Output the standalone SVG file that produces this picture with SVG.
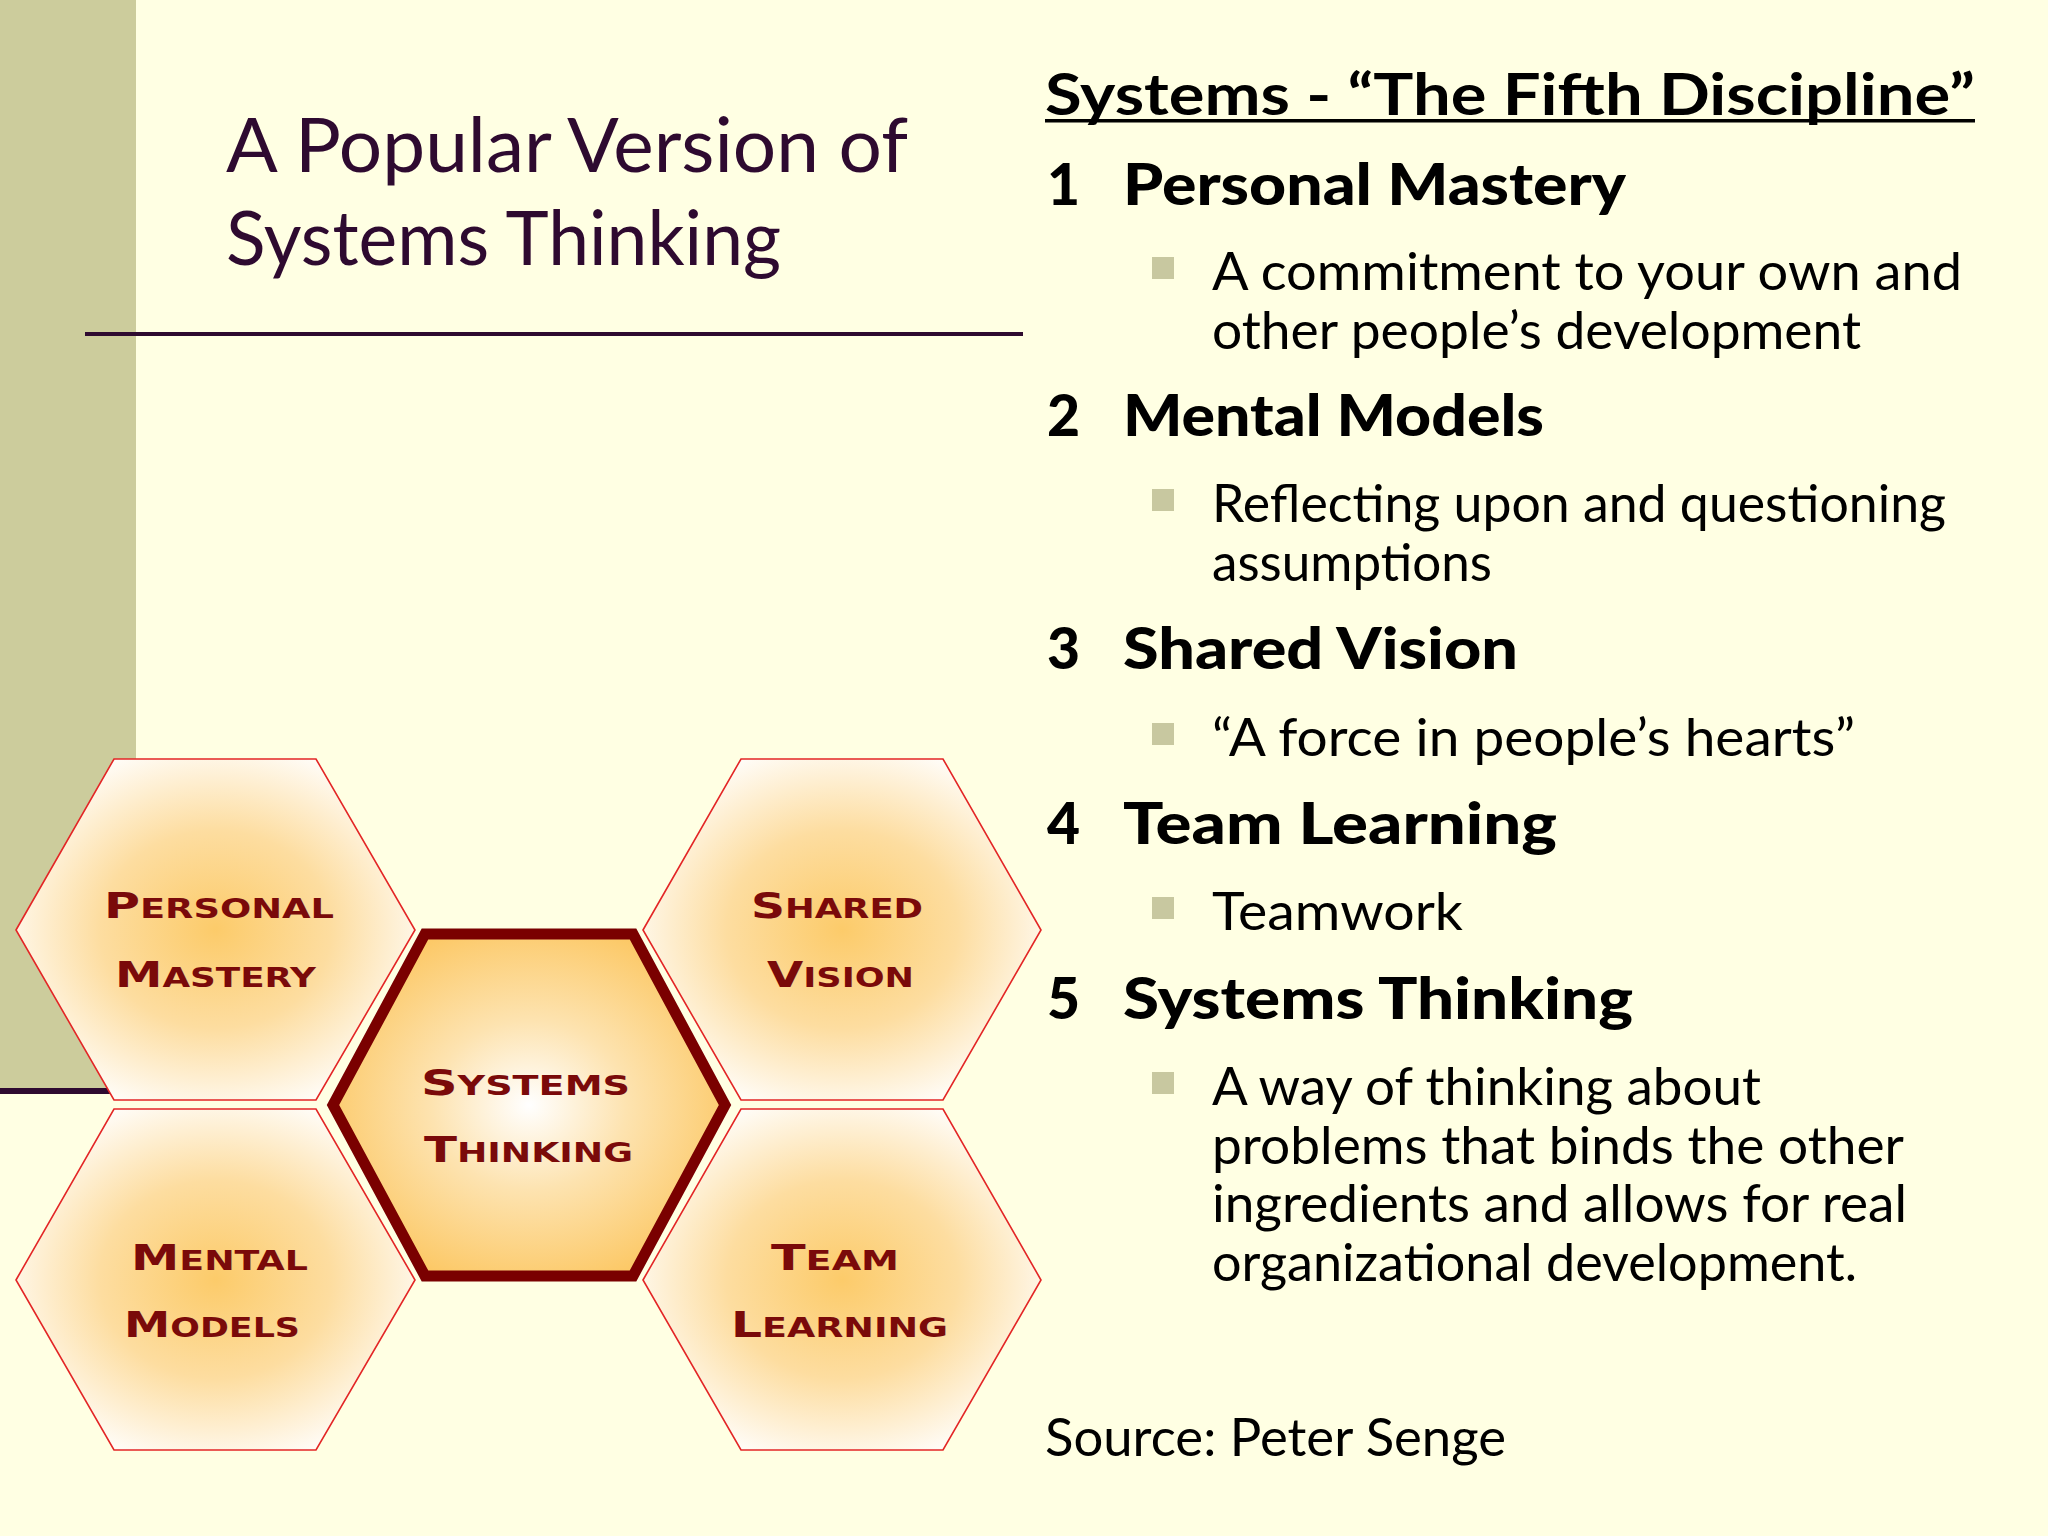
<svg xmlns="http://www.w3.org/2000/svg" width="2048" height="1536" viewBox="0 0 2048 1536">
<defs>
<radialGradient id="gOuter" cx="50%" cy="50%" r="58%">
<stop offset="0" stop-color="#FCCB6A"/>
<stop offset="0.5" stop-color="#FDDDA0"/>
<stop offset="1" stop-color="#FFFFFF"/>
</radialGradient>
<radialGradient id="gCenter" cx="50%" cy="50%" r="55%">
<stop offset="0" stop-color="#FFFFFF"/>
<stop offset="0.45" stop-color="#FDE3B0"/>
<stop offset="1" stop-color="#FCC865"/>
</radialGradient>
<style>
.t{font-family:Lato,"Open Sans","Liberation Sans",sans-serif;}
.title{font-size:76px;fill:#2E0A30;}
.head{font-size:57px;font-weight:900;fill:#000;}
.body{font-size:53px;fill:#000;}
.hex{fill:url(#gOuter);stroke:#E32626;stroke-width:1.6;}
.hexc{fill:url(#gCenter);stroke:#7A0000;stroke-width:11;stroke-linejoin:miter;}
.hl{font-family:"DejaVu Sans","Liberation Sans",sans-serif;font-weight:bold;fill:#7A0A0A;font-size:27px;}
.big{font-size:36px;}
.bul{fill:#C8C8A0;}
</style>
</defs>
<rect x="0" y="0" width="2048" height="1536" fill="#FFFFE3"/>
<rect x="0" y="0" width="136" height="1088" fill="#CCCC9C"/>
<rect x="0" y="1088" width="112" height="6" fill="#2E0A30"/>
<rect x="112" y="1088" width="24" height="6" fill="#DADAC8"/>
<line x1="85" y1="334" x2="1023" y2="334" stroke="#2E0A30" stroke-width="4"/>

<g id="title">
<text class="t title" x="226" y="172" textLength="682" lengthAdjust="spacingAndGlyphs">A Popular Version of</text>
<text class="t title" x="226" y="265" textLength="555" lengthAdjust="spacingAndGlyphs">Systems Thinking</text>
</g>

<g id="connectors"></g>

<g id="hex-personal-mastery">
<polygon class="hex" points="16,930 114,759 316,759 415,930 316,1100 114,1100"/>
<text class="hl" x="104" y="918" textLength="230" lengthAdjust="spacingAndGlyphs"><tspan class="big">P</tspan>ERSONAL</text>
<text class="hl" x="115" y="987" textLength="201" lengthAdjust="spacingAndGlyphs"><tspan class="big">M</tspan>ASTERY</text>
</g>
<g id="hex-mental-models">
<polygon class="hex" points="16,1280 114,1109 316,1109 415,1280 316,1450 114,1450"/>
<text class="hl" x="131" y="1270" textLength="177" lengthAdjust="spacingAndGlyphs"><tspan class="big">M</tspan>ENTAL</text>
<text class="hl" x="124" y="1337" textLength="176" lengthAdjust="spacingAndGlyphs"><tspan class="big">M</tspan>ODELS</text>
</g>
<g id="hex-shared-vision">
<polygon class="hex" points="643,930 741,759 943,759 1041,930 943,1100 741,1100"/>
<text class="hl" x="751" y="918" textLength="172" lengthAdjust="spacingAndGlyphs"><tspan class="big">S</tspan>HARED</text>
<text class="hl" x="767" y="987" textLength="147" lengthAdjust="spacingAndGlyphs"><tspan class="big">V</tspan>ISION</text>
</g>
<g id="hex-team-learning">
<polygon class="hex" points="643,1280 741,1109 943,1109 1041,1280 943,1450 741,1450"/>
<text class="hl" x="771" y="1270" textLength="128" lengthAdjust="spacingAndGlyphs"><tspan class="big">T</tspan>EAM</text>
<text class="hl" x="731" y="1337" textLength="217" lengthAdjust="spacingAndGlyphs"><tspan class="big">L</tspan>EARNING</text>
</g>
<g id="hex-systems-thinking">
<polygon class="hexc" points="333,1105 425,934 633,934 725,1105 633,1276 425,1276"/>
<text class="hl" x="421" y="1095" textLength="209" lengthAdjust="spacingAndGlyphs"><tspan class="big">S</tspan>YSTEMS</text>
<text class="hl" x="424" y="1162" textLength="209" lengthAdjust="spacingAndGlyphs"><tspan class="big">T</tspan>HINKING</text>
</g>

<g id="disciplines">
<text class="t head" x="1045" y="115" textLength="930" lengthAdjust="spacingAndGlyphs" style="font-weight:700">Systems - “The Fifth Discipline”</text>
<rect x="1045" y="119" width="930" height="3.5" fill="#000"/>

<text class="t head" x="1047" y="205">1</text>
<text class="t head" x="1123" y="205" textLength="503" lengthAdjust="spacingAndGlyphs">Personal Mastery</text>
<rect class="bul" x="1152" y="257" width="22" height="22"/>
<text class="t body" x="1212" y="290" textLength="750" lengthAdjust="spacingAndGlyphs">A commitment to your own and</text>
<text class="t body" x="1212" y="349" textLength="649" lengthAdjust="spacingAndGlyphs">other people’s development</text>

<text class="t head" x="1047" y="436">2</text>
<text class="t head" x="1123" y="436" textLength="421" lengthAdjust="spacingAndGlyphs">Mental Models</text>
<rect class="bul" x="1152" y="489" width="22" height="22"/>
<text class="t body" x="1212" y="522" textLength="734" lengthAdjust="spacingAndGlyphs">Reflecting upon and questioning</text>
<text class="t body" x="1212" y="581" textLength="280" lengthAdjust="spacingAndGlyphs">assumptions</text>

<text class="t head" x="1047" y="669">3</text>
<text class="t head" x="1123" y="669" textLength="395" lengthAdjust="spacingAndGlyphs">Shared Vision</text>
<rect class="bul" x="1152" y="723" width="22" height="22"/>
<text class="t body" x="1212" y="756" textLength="643" lengthAdjust="spacingAndGlyphs">“A force in people’s hearts”</text>

<text class="t head" x="1047" y="844">4</text>
<text class="t head" x="1123" y="844" textLength="434" lengthAdjust="spacingAndGlyphs">Team Learning</text>
<rect class="bul" x="1152" y="897" width="22" height="22"/>
<text class="t body" x="1212" y="930" textLength="251" lengthAdjust="spacingAndGlyphs">Teamwork</text>

<text class="t head" x="1047" y="1019">5</text>
<text class="t head" x="1123" y="1019" textLength="510" lengthAdjust="spacingAndGlyphs">Systems Thinking</text>
<rect class="bul" x="1152" y="1072" width="22" height="22"/>
<text class="t body" x="1212" y="1105" textLength="549" lengthAdjust="spacingAndGlyphs">A way of thinking about</text>
<text class="t body" x="1212" y="1164" textLength="692" lengthAdjust="spacingAndGlyphs">problems that binds the other</text>
<text class="t body" x="1212" y="1222" textLength="695" lengthAdjust="spacingAndGlyphs">ingredients and allows for real</text>
<text class="t body" x="1212" y="1281" textLength="645" lengthAdjust="spacingAndGlyphs">organizational development.</text>

<text class="t body" x="1045" y="1456" textLength="461" lengthAdjust="spacingAndGlyphs">Source: Peter Senge</text>
</g>
</svg>
